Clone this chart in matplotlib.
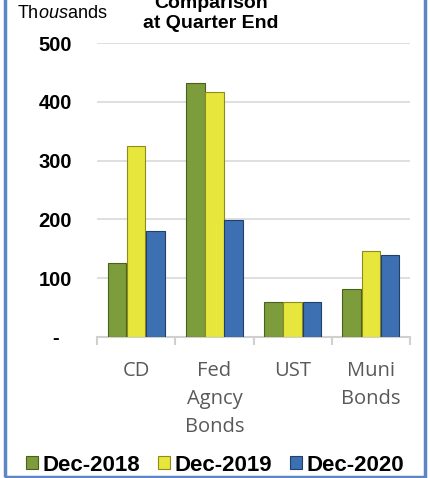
import numpy as np
import matplotlib.pyplot as plt
from matplotlib.patches import Rectangle

# Données (milliers)
categories = ['CD', 'Fed\nAgncy\nBonds', 'UST', 'Muni\nBonds']
series_names = ['Dec-2018', 'Dec-2019', 'Dec-2020']
dec_2018 = [126, 432, 59, 82]
dec_2019 = [325, 416, 59, 147]
dec_2020 = [180, 199, 59, 139]
yticks = [0, 100, 200, 300, 400, 500]
ytick_labels = ['-', '100', '200', '300', '400', '500']

colors = ['#7d9c3c', '#e6e63c', '#3d70b2']
edges = ['#4a6020', '#8c8c1c', '#203f6a']

plt.rcParams['font.family'] = ['Liberation Sans', 'DejaVu Sans']
plt.rcParams['mathtext.fontset'] = 'custom'
plt.rcParams['mathtext.rm'] = 'Liberation Sans'
plt.rcParams['mathtext.it'] = 'Liberation Sans:italic'

fig = plt.figure(figsize=(4.3, 4.78), dpi=100)
ax = fig.add_axes([0.2256, 0.295, 0.7279, 0.615])

x = np.arange(len(categories))
w = 0.245
for i, vals in enumerate([dec_2018, dec_2019, dec_2020]):
    ax.bar(x + (i - 1) * w, vals, width=w * 0.97, color=colors[i],
           edgecolor=edges[i], linewidth=0.8, label=series_names[i], zorder=3)

ax.set_xlim(-0.5, len(categories) - 0.5)
ax.set_ylim(0, 500)
ax.set_yticks(yticks)
ax.set_yticklabels(ytick_labels, fontsize=14.5, fontweight='bold')
ax.tick_params(axis='y', length=0, pad=30)
for lab in ax.get_yticklabels():
    lab.set_horizontalalignment('center')

ax.grid(axis='y', color='#d9d9d9', linewidth=1.2, zorder=0)
for s in ['top', 'right', 'left']:
    ax.spines[s].set_visible(False)
ax.spines['bottom'].set_color('#d0d0d0')
ax.spines['bottom'].set_linewidth(1.5)

# ticks between categories
ax.set_xticks(np.arange(-0.5, len(categories), 1.0), minor=False)
ax.set_xticklabels([])
ax.tick_params(axis='x', length=6, width=1.5, color='#d0d0d0', direction='out')
for i, cat in enumerate(categories):
    ax.text(i, -40, cat, ha='center', va='top', fontsize=14.5,
            color='#595959', family='Open Sans', linespacing=1.55)

# titre (première ligne coupée en haut)
fig.text(0.49, 0.972, 'Comparison\nat Quarter End', ha='center', va='center',
         fontsize=14, fontweight='bold', linespacing=1.2)
fig.text(0.145, 0.972, r'Th$\it{ous}$ands', ha='center', va='center', fontsize=13)

fig.legend(loc='center', bbox_to_anchor=(0.5, 0.027), ncol=3, frameon=False,
           prop={'weight': 'bold', 'size': 16}, handlelength=0.55,
           handleheight=0.55, handletextpad=0.2, columnspacing=0.8)

fig.patches.append(Rectangle((0.012, 0.002), 0.976, 1.1, transform=fig.transFigure,
                             fill=False, edgecolor='#5b87c5', linewidth=2.5))

fig.savefig('out.png', dpi=100)
